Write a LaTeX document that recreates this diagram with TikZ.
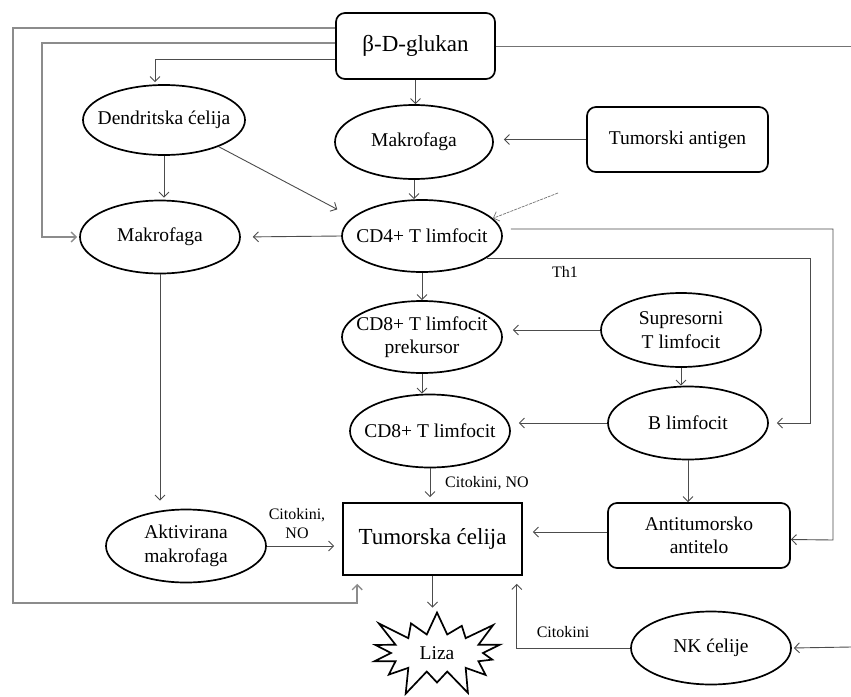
\documentclass[tikz,border=0pt]{standalone}
\usepackage{fontspec}
\setmainfont{Liberation Serif}
\usetikzlibrary{shapes.geometric,shapes.symbols,arrows.meta,calc}
\newcommand\mfs{\fontsize{19.5}{23.5}\selectfont}
\newcommand\bigfs{\fontsize{23}{27}\selectfont}
\newcommand\smfs{\fontsize{16}{19}\selectfont}
\begin{document}
\begin{tikzpicture}[x=1pt,y=-1pt,
  arr/.style={draw=black!70, line width=0.9pt, -{Straight Barb[length=5pt,width=10pt]}},
  garr/.style={arr, draw=black!45, line width=1.4pt},
  plainline/.style={draw=black!55, line width=0.9pt},
  lbl/.style={font=\mfs, align=center, inner sep=0pt},
  ell/.style={ellipse, draw, line width=1.7pt, minimum width=160pt, minimum height=73pt, inner sep=0pt, label={[lbl]center:#1}},
  rbox/.style={rectangle, rounded corners=9pt, draw, line width=1.7pt, align=center, font=\mfs},
  note/.style={font=\smfs, align=center, inner sep=0pt}]
\fill[white] (0,0) rectangle (851,696);
\useasboundingbox (0,0) rectangle (851,696);

% nodes
\node[rbox, minimum width=159pt, minimum height=66pt, font=\bigfs] (glukan) at (415.5,46) {β-D-glukan};
\node[ell={Makrofaga}, minimum width=158pt, minimum height=74pt] (mtop) at (414,142) {};
\node[rbox, minimum width=181pt, minimum height=65pt] (tant) at (677.5,139.5) {Tumorski antigen};
\node[ell={Dendritska ćelija}, minimum width=162pt, minimum height=70pt] (dc) at (164,120) {};
\node[ell={Makrofaga}] (mlft) at (160,237) {};
\node[ell={CD4+ T limfocit}, minimum height=72pt] (cd4) at (422,236) {};
\node[ell={CD8+ T limfocit\\prekursor}, minimum height=72pt] (cd8p) at (422,337) {};
\node[ell={Supresorni\\T limfocit}, minimum height=74pt] (sup) at (681,330) {};
\node[ell={B limfocit}] (blf) at (688,423) {};
\node[ell={CD8+ T limfocit}] (cd8) at (430,431) {};
\node[rbox, minimum width=182pt, minimum height=65pt] (atb) at (699,535.5) {Antitumorsko\\antitelo};
\node[draw, line width=1.7pt, minimum width=179pt, minimum height=72pt, font=\bigfs] (tum) at (432.5,539) {Tumorska ćelija};
\node[ell={Aktivirana\\makrofaga}] (akt) at (186,546) {};
\node[ell={NK ćelije}] (nk) at (711,648) {};
\node[starburst, draw, line width=1.7pt, starburst points=14, starburst point height=30pt, minimum width=152pt, minimum height=98pt, font=\mfs, fill=white] (liza) at (437,653) {Liza};

% free ends
\coordinate (rtop) at (851,46);
\coordinate (rnk) at (851,647);
\coordinate (dstart) at (558,193);

% connectors from beta-D-glukan
\draw[garr, shorten >=8pt] ([yshift=18pt]glukan.west) -| (13,603) -| ([xshift=15pt]tum.south west);
\draw[garr, shorten >=2pt] ([yshift=3pt]glukan.west) -| (42,237) -- (mlft.west);
\draw[arr, shorten >=2pt] ([yshift=-13pt]glukan.west) -| ([xshift=-9pt]dc.north);
\draw[arr] (glukan.south) -- (glukan.south |- mtop.north);
\draw[plainline] (glukan.east) -- (rtop);

\draw[arr, shorten >=10pt] (tant.west) -- (tant.west -| mtop.east);
\draw[arr, shorten >=2pt] (dc.south) -- (dc.south |- mlft.north);
\draw[arr, shorten >=17pt] (dc.-26) -- (cd4.165);
\draw[arr] (mtop.south) -- (mtop.south |- cd4.north);
\draw[arr, draw=black!55, line width=0.7pt, dash pattern=on 3pt off 1pt] (dstart) -- (cd4.14);
\draw[arr, shorten >=12pt] (cd4.west) -- (mlft.east);
\draw[arr] ([shift={(8pt,7pt)}]cd4.east) -| (833,540) -- ([yshift=-4pt]atb.east);
\draw[arr, shorten >=8pt] (cd4.-19) -| (810,423) -- (blf.east);
\node[note] (th1) at (565,272) {Th1};

\draw[arr] (cd4.south) -- (cd8p.north);
\draw[arr, shorten >=10pt] (sup.west) -- (sup.west -| cd8p.east);
\draw[arr] (sup.south) -- (sup.south |- blf.north);
\draw[arr] (cd8p.south) -- (cd8p.south |- cd8.north);
\draw[arr, shorten >=8pt] (blf.west) -- (blf.west -| cd8.east);
\draw[arr, shorten >=5pt] (cd8.south) -- (cd8.south |- tum.north);
\node[note] (lab1) at (487,483) {Citokini, NO};
\draw[arr] (blf.south) -- (blf.south |- atb.north);
\draw[arr, shorten >=10pt] ([yshift=3.5pt]atb.west) -- ([yshift=3.5pt]atb.west -| tum.east);
\draw[arr, shorten >=8pt] (mlft.south) -- (mlft.south |- akt.north);
\draw[arr, shorten >=8pt] (akt.east) -- (akt.east -| tum.west);
\node[note] (lab2) at (297,524) {Citokini,\\NO};
\draw[arr, shorten >=3pt] (tum.south) -- (tum.south |- liza.north);
\draw[arr, shorten >=8pt] (nk.west) -| ([xshift=-6pt]tum.south east);
\node[note] (lab3) at (563,632) {Citokini};
\draw[arr, shorten >=2pt] (rnk) -- (nk.east);
\end{tikzpicture}
\end{document}
